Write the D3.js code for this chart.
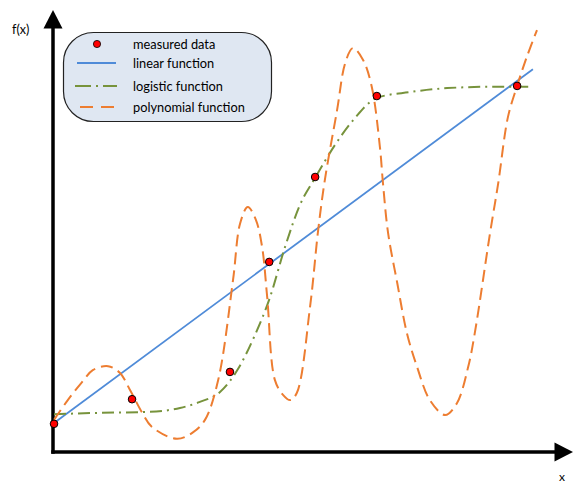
<!DOCTYPE html>
<html>
<head>
<meta charset="utf-8">
<script src="https://cdn.jsdelivr.net/npm/d3@7"></script>
<style>
  html, body { margin: 0; padding: 0; background: #fff; }
  svg { display: block; }
  text { font-family: Lato, "Open Sans", sans-serif; fill: #000; }
</style>
</head>
<body>
<div id="chart"></div>
<script>
// ---- data (abstract units, x: 0..10, y: 0..10) ----
const measuredX = [0.02, 1.55, 3.47, 4.24, 5.14, 6.35, 9.10];
const measuredY = [0.64, 1.20, 1.82, 4.32, 6.25, 8.09, 8.32];

const linearX = [0.02, 9.41];
const linearY = [0.66, 8.70];

const logisticX = [0.02, 0.92, 1.84, 2.49, 2.88, 3.27, 3.63, 3.96, 4.25, 4.55, 4.84, 5.14, 5.53, 5.92, 6.35, 7.00, 7.73, 8.57, 9.37];
const logisticY = [0.86, 0.89, 0.91, 1.00, 1.14, 1.36, 1.89, 2.66, 3.50, 4.66, 5.61, 6.23, 6.98, 7.59, 8.05, 8.18, 8.27, 8.30, 8.30];

const polyX = [0.02, 0.29, 0.57, 0.78, 1.08, 1.31, 1.51, 1.75, 1.94, 2.43, 2.75, 2.98, 3.24, 3.53, 3.67, 3.82, 3.98, 4.10, 4.20, 4.35, 4.51, 4.65, 4.78, 5.04, 5.20, 5.33, 5.57, 5.73, 5.88, 6.08, 6.25, 6.41, 6.47, 6.57, 6.75, 6.94, 7.14, 7.39, 7.69, 7.92, 8.14, 8.27, 8.57, 8.73, 8.92, 9.10, 9.29, 9.49];
const polyY = [0.73, 1.18, 1.59, 1.86, 1.95, 1.80, 1.41, 0.89, 0.57, 0.30, 0.45, 0.73, 1.64, 3.91, 5.20, 5.57, 5.27, 4.66, 3.52, 1.64, 1.30, 1.18, 1.34, 3.30, 5.05, 6.18, 7.77, 8.84, 9.18, 8.91, 8.30, 6.93, 6.11, 4.98, 3.84, 2.70, 1.93, 1.18, 0.84, 1.11, 1.93, 2.70, 4.98, 6.11, 7.61, 8.32, 8.98, 9.59];

const legendLabels = ["measured data", "linear function", "logistic function", "polynomial function"];
const axisLabels = {x: "x", y: "f(x)"};

// ---- layout ----
const W = 573, H = 484;
const colors = {point: "#ff0000", linear: "#4f8bd8", logistic: "#77933c", poly: "#ed7d31"};

const svg = d3.select("#chart").append("svg").attr("width", W).attr("height", H);

const x = d3.scaleLinear().domain([0, 10]).range([53, 563]);
const y = d3.scaleLinear().domain([0, 10]).range([452, 12]);

const zip = (xs, ys) => xs.map((v, i) => [v, ys[i]]);
const line = d3.line().x(d => x(d[0])).y(d => y(d[1]));

// ---- axes (arrows) ----
const axisW = 3.5;
svg.append("line")
  .attr("x1", x(0)).attr("x2", x(0))
  .attr("y1", y(0) + axisW / 2).attr("y2", 27)
  .attr("stroke", "#000").attr("stroke-width", axisW);
svg.append("path")
  .attr("d", d3.line()([[x(0), 10], [x(0) - 9.5, 28.5], [x(0) + 9.5, 28.5]]) + "Z")
  .attr("fill", "#000");
svg.append("line")
  .attr("x1", x(0) - axisW / 2).attr("x2", 556)
  .attr("y1", y(0)).attr("y2", y(0))
  .attr("stroke", "#000").attr("stroke-width", axisW);
svg.append("path")
  .attr("d", d3.line()([[573, y(0)], [554.5, y(0) - 9.5], [554.5, y(0) + 9.5]]) + "Z")
  .attr("fill", "#000");

svg.append("text").attr("x", 12).attr("y", 34).attr("font-size", 12.5).text(axisLabels.y);
svg.append("text").attr("x", 562).attr("y", 481).attr("text-anchor", "middle").attr("font-size", 12).text(axisLabels.x);

// ---- curves ----
svg.append("path")
  .datum(zip(linearX, linearY))
  .attr("d", line)
  .attr("fill", "none").attr("stroke", colors.linear).attr("stroke-width", 1.8);

svg.append("path")
  .datum(zip(logisticX, logisticY))
  .attr("d", line.curve(d3.curveMonotoneX))
  .attr("fill", "none").attr("stroke", colors.logistic).attr("stroke-width", 2)
  .attr("stroke-dasharray", "12,5,2,5");

svg.append("path")
  .datum(zip(polyX, polyY))
  .attr("d", d3.line().x(d => x(d[0])).y(d => y(d[1])).curve(d3.curveCatmullRom.alpha(0.5)))
  .attr("fill", "none").attr("stroke", colors.poly).attr("stroke-width", 2)
  .attr("stroke-dasharray", "12,6");

svg.selectAll("circle.pt")
  .data(zip(measuredX, measuredY))
  .join("circle").attr("class", "pt")
  .attr("cx", d => x(d[0])).attr("cy", d => y(d[1])).attr("r", 3.8)
  .attr("fill", colors.point).attr("stroke", "#000").attr("stroke-width", 1);

// ---- legend ----
const lg = svg.append("g");
lg.append("rect")
  .attr("x", 63.5).attr("y", 32.5).attr("width", 208).attr("height", 89)
  .attr("rx", 30).attr("ry", 30)
  .attr("fill", "#dfe7f2").attr("stroke", "#222").attr("stroke-width", 1.2);

const rowY = [44, 63, 86, 107];
lg.append("circle").attr("cx", 97).attr("cy", rowY[0]).attr("r", 3.6)
  .attr("fill", colors.point).attr("stroke", "#000").attr("stroke-width", 0.8);
lg.append("line").attr("x1", 77).attr("x2", 116).attr("y1", rowY[1]).attr("y2", rowY[1])
  .attr("stroke", colors.linear).attr("stroke-width", 1.8);
lg.append("line").attr("x1", 75).attr("x2", 117).attr("y1", rowY[2]).attr("y2", rowY[2])
  .attr("stroke", colors.logistic).attr("stroke-width", 2).attr("stroke-dasharray", "16,5,2,5");
lg.append("line").attr("x1", 80).attr("x2", 114).attr("y1", rowY[3]).attr("y2", rowY[3])
  .attr("stroke", colors.poly).attr("stroke-width", 2).attr("stroke-dasharray", "13,8");

lg.selectAll("text.lbl")
  .data(legendLabels)
  .join("text").attr("class", "lbl")
  .attr("x", 133).attr("y", (d, i) => rowY[i] + 4.5)
  .attr("font-size", 12.8)
  .text(d => d);
</script>
</body>
</html>
